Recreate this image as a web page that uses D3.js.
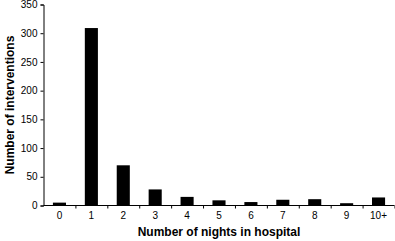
<!DOCTYPE html>
<html>
<head>
<meta charset="utf-8">
<script src="https://cdn.jsdelivr.net/npm/d3@7"></script>
<style>
body { margin: 0; background: #fff; }
text { font-family: "Liberation Sans", Arial, sans-serif; }
</style>
</head>
<body>
<div class="chart"></div>
<script>
var nights = ["0", "1", "2", "3", "4", "5", "6", "7", "8", "9", "10+"];
var interventions = [5, 309, 70, 28, 15, 9, 6, 10, 11, 4, 14];
var yTicks = [0, 50, 100, 150, 200, 250, 300, 350];

var width = 395, height = 241;
var mLeft = 43.5, mTop = 4.5, mRight = 394.5, mBottom = 205.5;

var svg = d3.select(".chart").append("svg")
    .attr("width", width).attr("height", height);

var x = d3.scaleBand().domain(nights).range([mLeft, mRight])
    .paddingInner(0.59).paddingOuter(0.295);
var xEdge = d3.scaleLinear().domain([0, nights.length]).range([mLeft, mRight]);
var y = d3.scaleLinear().domain([0, 350]).range([mBottom, mTop]);

// bars
svg.selectAll(".bar")
    .data(interventions)
    .enter().append("rect")
    .attr("class", "bar")
    .attr("x", function(d, i) { return x(nights[i]); })
    .attr("y", function(d) { return y(d); })
    .attr("width", x.bandwidth())
    .attr("height", function(d) { return mBottom - y(d); })
    .attr("fill", "#000");

// y axis
var yAxis = d3.axisLeft(y).tickValues(yTicks).tickSize(3).tickPadding(3);
var gy = svg.append("g").attr("transform", "translate(" + mLeft + ",0)").call(yAxis);
gy.select(".domain").attr("stroke", "#000");
gy.selectAll("text").attr("font-size", 10).attr("fill", "#000");

// x axis: tick marks on category edges, labels on centres
var xTicks = d3.axisBottom(xEdge).tickValues(d3.range(1, nights.length + 1))
    .tickSize(3).tickFormat("");
svg.append("g").attr("transform", "translate(0," + mBottom + ")").call(xTicks)
    .select(".domain").attr("d", "M" + mLeft + ",0H" + mRight);

var xLabels = d3.axisBottom(x).tickSize(0).tickPadding(6);
var gx = svg.append("g").attr("transform", "translate(0," + mBottom + ")").call(xLabels);
gx.select(".domain").remove();
gx.selectAll("text").attr("font-size", 10).attr("fill", "#000");

// titles
svg.append("text")
    .attr("x", (mLeft + mRight) / 2).attr("y", 236)
    .attr("text-anchor", "middle")
    .attr("font-size", 12).attr("font-weight", "bold")
    .text("Number of nights in hospital");

svg.append("text")
    .attr("transform", "translate(14," + ((mTop + mBottom) / 2) + ") rotate(-90)")
    .attr("text-anchor", "middle")
    .attr("font-size", 12).attr("font-weight", "bold")
    .text("Number of interventions");
</script>
</body>
</html>
